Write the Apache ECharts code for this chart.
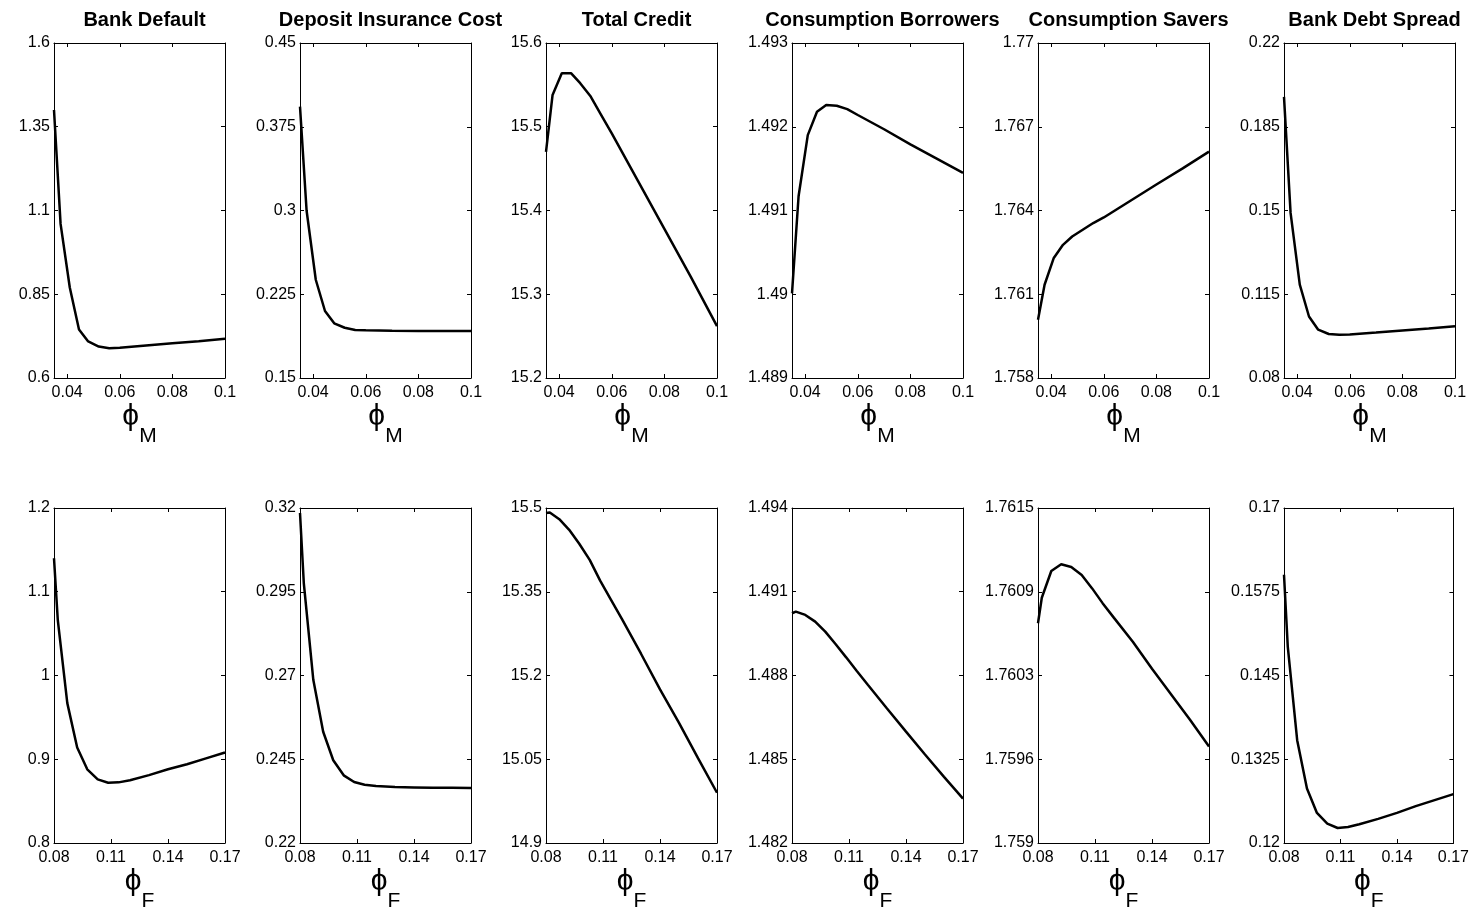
<!DOCTYPE html>
<html>
<head>
<meta charset="utf-8">
<script src="https://cdn.jsdelivr.net/npm/echarts@6.0.0/dist/echarts.min.js"></script>
<style>
  html, body { margin: 0; padding: 0; background: #fff; }
  #chart { width: 1472px; height: 914px; }
</style>
</head>
<body>
<div id="chart"></div>
<script>
// x grids (phi_M on top row, phi_F on bottom row)
var xTop = [0.035, 0.0375, 0.041, 0.0445, 0.048, 0.052, 0.056, 0.06, 0.07, 0.08, 0.09, 0.1];
var xBottom = [0.08, 0.082, 0.087, 0.0922, 0.0975, 0.103, 0.1085, 0.114, 0.12, 0.13, 0.14, 0.15, 0.16, 0.17];
var xTicksTop = [0.04, 0.06, 0.08, 0.1];
var xTicksBottom = [0.08, 0.11, 0.14, 0.17];

var titles = ['Bank Default', 'Deposit Insurance Cost', 'Total Credit', 'Consumption Borrowers', 'Consumption Savers', 'Bank Debt Spread'];

// top row: varying phi_M
var bankDefaultM = [1.40, 1.06, 0.87, 0.745, 0.709, 0.694, 0.689, 0.690, 0.697, 0.704, 0.710, 0.717];
var depositCostM = [0.393, 0.300, 0.238, 0.210, 0.199, 0.195, 0.193, 0.1927, 0.1924, 0.1922, 0.1921, 0.192];
var totalCreditM = [15.47, 15.538, 15.564, 15.564, 15.552, 15.536, 15.514, 15.492, 15.435, 15.378, 15.321, 15.262];
var consBorrowersM = [1.49001, 1.49117, 1.4919, 1.49218, 1.49226, 1.49225, 1.49221, 1.49214, 1.49197, 1.49179, 1.49162, 1.49145];
var consSaversM = [1.76009, 1.76134, 1.7623, 1.76277, 1.76307, 1.76331, 1.76355, 1.76375, 1.76434, 1.76493, 1.76551, 1.76611];
var debtSpreadM = [0.1975, 0.149, 0.119, 0.1057, 0.1002, 0.0984, 0.0981, 0.0982, 0.099, 0.0999, 0.1007, 0.1016];

// bottom row: varying phi_F
var bankDefaultF = [1.140, 1.066, 0.967, 0.914, 0.888, 0.876, 0.872, 0.8724, 0.875, 0.881, 0.888, 0.894, 0.901, 0.908];
var depositCostF = [0.3185, 0.2976, 0.2687, 0.2532, 0.2447, 0.2402, 0.2382, 0.2374, 0.2370, 0.2367, 0.2366, 0.2365, 0.2365, 0.2364];
var totalCreditF = [15.491, 15.492, 15.480, 15.461, 15.436, 15.407, 15.370, 15.337, 15.301, 15.239, 15.175, 15.115, 15.052, 14.990];
var consBorrowersF = [1.49023, 1.49029, 1.49017, 1.48993, 1.48957, 1.48912, 1.48865, 1.48817, 1.48766, 1.48682, 1.48599, 1.48517, 1.48437, 1.48359];
var consSaversF = [1.76064, 1.76083, 1.76103, 1.76108, 1.76106, 1.761, 1.7609, 1.76079, 1.76068, 1.7605, 1.7603, 1.76011, 1.75992, 1.75972];
var debtSpreadF = [0.16003, 0.14931, 0.13535, 0.12812, 0.12448, 0.12289, 0.12224, 0.12239, 0.1228, 0.1236, 0.1245, 0.1255, 0.1264, 0.1273];

// y ticks per panel (first = min, last = max)
var yTicks = [
  [0.6, 0.85, 1.1, 1.35, 1.6],
  [0.15, 0.225, 0.3, 0.375, 0.45],
  [15.2, 15.3, 15.4, 15.5, 15.6],
  [1.489, 1.49, 1.491, 1.492, 1.493],
  [1.758, 1.761, 1.764, 1.767, 1.77],
  [0.08, 0.115, 0.15, 0.185, 0.22],
  [0.8, 0.9, 1, 1.1, 1.2],
  [0.22, 0.245, 0.27, 0.295, 0.32],
  [14.9, 15.05, 15.2, 15.35, 15.5],
  [1.482, 1.485, 1.488, 1.491, 1.494],
  [1.759, 1.759625, 1.76025, 1.760875, 1.7615],
  [0.12, 0.1325, 0.145, 0.1575, 0.17]
];

var seriesData = [bankDefaultM, depositCostM, totalCreditM, consBorrowersM, consSaversM, debtSpreadM,
                  bankDefaultF, depositCostF, totalCreditF, consBorrowersF, consSaversF, debtSpreadF];

var font = 'Liberation Sans, Arial, Helvetica, sans-serif';
var lefts = [54, 300, 546, 792, 1038, 1284];
var tops = [43, 508];
var boxW = 171, boxH = 335;

function fmt(v) {
  return String(Math.round(v * 10000 + 1e-6) / 10000);
}

var grids = [], xAxes = [], yAxes = [], series = [], title = [];

for (var i = 0; i < 12; i++) {
  var row = i < 6 ? 0 : 1;
  var col = i % 6;
  var xs = row === 0 ? xTop : xBottom;
  var xt = row === 0 ? xTicksTop : xTicksBottom;
  var yt = yTicks[i];
  var sub = row === 0 ? 'M' : 'F';

  grids.push({ left: lefts[col], top: tops[row], width: boxW, height: boxH });

  if (row === 0) {
    title.push({
      text: titles[col],
      left: lefts[col] + boxW / 2,
      top: 5,
      textAlign: 'center',
      textStyle: { fontSize: 20, fontWeight: 'bold', color: '#000', fontFamily: font }
    });
  }

  var axLine = { show: true, onZero: false, lineStyle: { color: '#000', width: 1 } };
  var tick = { show: true, inside: true, length: 4, lineStyle: { color: '#000', width: 1 } };

  // bottom x
  xAxes.push({
    type: 'value', gridIndex: i, position: 'bottom',
    min: xs[0], max: xs[xs.length - 1],
    axisLine: axLine,
    axisTick: Object.assign({ customValues: xt }, tick),
    axisLabel: { customValues: xt, formatter: fmt, color: '#000', fontSize: 16, fontFamily: font, margin: 7 },
    splitLine: { show: false },
    name: '{p|ϕ}{s|' + sub + '}',
    nameLocation: 'middle', nameGap: 9,
    nameTextStyle: {
      rich: {
        p: { fontSize: 30, color: '#000', fontFamily: font, padding: [0, 0, 15, 0] },
        s: { fontSize: 21, color: '#000', fontFamily: font, padding: [24, 0, 0, 0] }
      }
    }
  });
  // top x (ticks only)
  xAxes.push({
    type: 'value', gridIndex: i, position: 'top',
    min: xs[0], max: xs[xs.length - 1],
    axisLine: axLine,
    axisTick: Object.assign({ customValues: xt }, tick),
    axisLabel: { show: false },
    splitLine: { show: false }
  });
  // left y
  yAxes.push({
    type: 'value', gridIndex: i, position: 'left',
    min: yt[0], max: yt[yt.length - 1],
    axisLine: axLine,
    axisTick: Object.assign({ customValues: yt }, tick),
    axisLabel: { customValues: yt, formatter: fmt, color: '#000', fontSize: 16, fontFamily: font, margin: 4 },
    splitLine: { show: false }
  });
  // right y (ticks only)
  yAxes.push({
    type: 'value', gridIndex: i, position: 'right',
    min: yt[0], max: yt[yt.length - 1],
    axisLine: axLine,
    axisTick: Object.assign({ customValues: yt }, tick),
    axisLabel: { show: false },
    splitLine: { show: false }
  });

  var ys = seriesData[i];
  series.push({
    type: 'line',
    xAxisIndex: 2 * i,
    yAxisIndex: 2 * i,
    data: xs.map(function (x, k) { return [x, ys[k]]; }),
    showSymbol: false,
    symbol: 'none',
    smooth: false,
    lineStyle: { color: '#000', width: 2.5 },
    animation: false
  });
}

var myChart = echarts.init(document.getElementById('chart'));
myChart.setOption({
  animation: false,
  backgroundColor: '#fff',
  title: title,
  grid: grids,
  xAxis: xAxes,
  yAxis: yAxes,
  series: series
});
</script>
</body>
</html>
